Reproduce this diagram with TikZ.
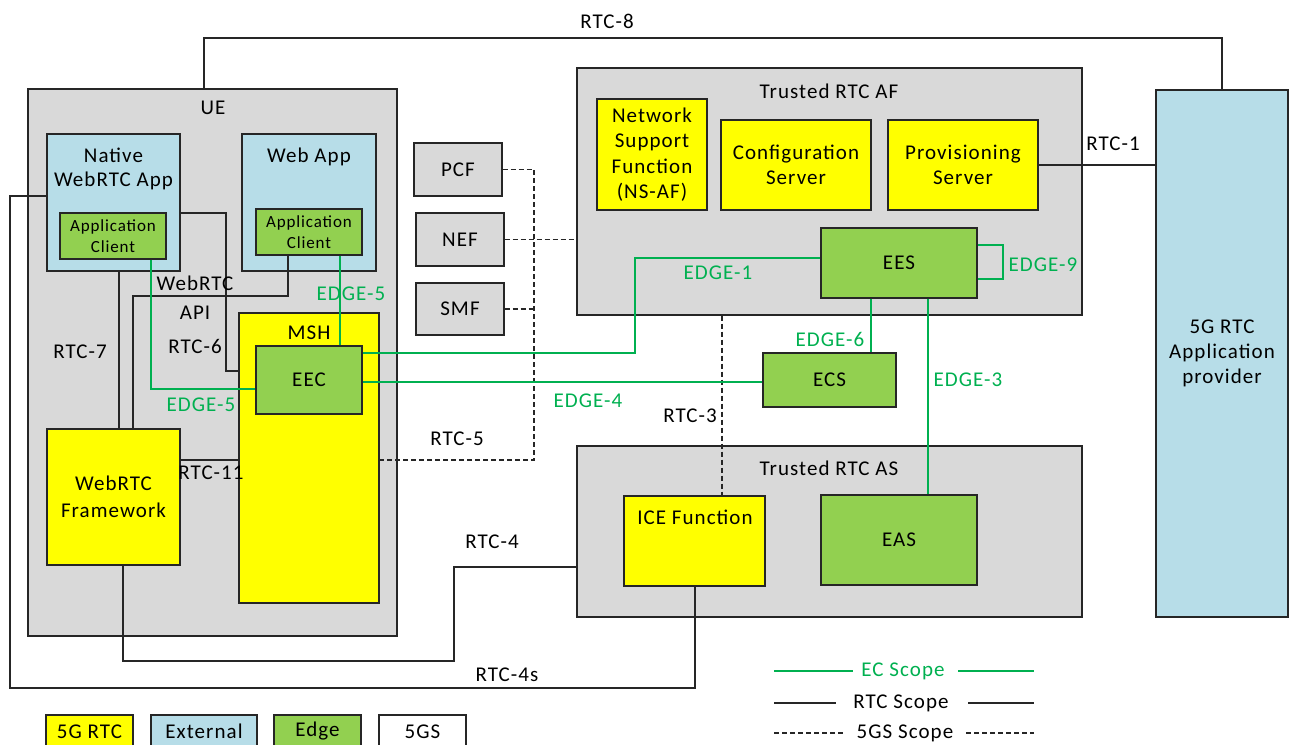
\documentclass[tikz,border=0pt]{standalone}
\usepackage{fontspec}
\setmainfont{Carlito}[LetterSpace=5]
\usetikzlibrary{positioning,calc}
\definecolor{areagray}{HTML}{D9D9D9}
\definecolor{extblue}{HTML}{B7DDE8}
\definecolor{edgefill}{HTML}{92D050}
\definecolor{rtcyellow}{HTML}{FFFF00}
\definecolor{ecgreen}{HTML}{00B050}
\tikzset{
  size/.style 2 args={minimum width=#1pt,minimum height=#2pt},
  box/.style={draw=black!85,line width=1.2pt,inner sep=0pt,align=center,font=\fontsize{21}{25}\selectfont},
  area/.style={box,fill=areagray},
  ext/.style={box,fill=extblue},
  edgebox/.style={box,fill=edgefill},
  rtcbox/.style={box,fill=rtcyellow},
  small/.style={font=\fontsize{17}{21}\selectfont},
  rtc/.style={line width=1.1pt,black!85},
  fgs/.style={rtc,dash pattern=on 5pt off 3pt},
  ec/.style={line width=1.1pt,ecgreen},
  lbl/.style={align=center,font=\fontsize{21}{25}\selectfont},
  eclbl/.style={lbl,text=ecgreen}
}

\begin{document}
\begin{tikzpicture}[x=1pt,y=-1pt]
  \clip (0,0) rectangle (1289,744);

  % UE side
  \node[area,size={369}{547}]    (ue)    at (212.5,362.5) {};
  \node[lbl]                     (uelbl) at (213,108) {UE};
  \node[ext,size={133}{137}]     (nat)   at (113.5,202.5) {};
  \node[lbl,font=\fontsize{21}{24}\selectfont] (natlbl) at (113.5,169) {Native\\WebRTC App};
  \node[edgebox,small,size={106}{46}] (natcl) at (113,236) {Application\\Client};
  \node[ext,size={134}{137}]     (web)   at (309,202.5) {};
  \node[lbl]                     (weblbl) at (309,157) {Web App};
  \node[edgebox,small,size={106}{46}] (webcl) at (309,232) {Application\\Client};
  \node[rtcbox,size={140}{290}]  (msh)   at (309,458) {};
  \node[lbl]                     (mshlbl) at (309,333) {MSH};
  \node[edgebox,size={106}{68}]  (eec)   at (309,380) {EEC};
  \node[rtcbox,size={133}{136},font=\fontsize{21}{27}\selectfont] (fw) at (113.5,497) {WebRTC\\Framework};

  % 5GS functions
  \node[area,size={88}{53}]      (pcf)   at (458,169.5) {PCF};
  \node[area,size={88}{53}]      (nef)   at (460,239.5) {NEF};
  \node[area,size={88}{52}]      (smf)   at (460,309) {SMF};

  % Trusted RTC AF
  \node[area,size={505}{247}]    (af)    at (829.5,191.5) {};
  \node[lbl]                     (aflbl) at (829,91) {Trusted RTC AF};
  \node[rtcbox,size={110}{111},font=\fontsize{21}{25.5}\selectfont] (nsaf) at (652,154.5) {Network\\Support\\Function\\(NS-AF)};
  \node[rtcbox,size={150}{90}]   (conf)  at (796,165) {Configuration\\Server};
  \node[rtcbox,size={150}{90}]   (prov)  at (963,165) {Provisioning\\Server};
  \node[edgebox,size={156}{70}]  (ees)   at (899,263) {EES};
  \node[edgebox,size={133}{54}]  (ecs)   at (829.5,380) {ECS};

  % Trusted RTC AS
  \node[area,size={505}{171}]    (as)    at (829.5,531.5) {};
  \node[lbl]                     (aslbl) at (829,468) {Trusted RTC AS};
  \node[rtcbox,size={141}{90}]   (ice)   at (694.5,541) {};
  \node[lbl]                     (icelbl) at (695,517) {ICE Function};
  \node[edgebox,size={156}{90}]  (eas)   at (899,540) {EAS};

  % application provider
  \node[ext,size={132}{527}]     (app)   at (1222,353.5) {5G RTC\\Application\\provider};

  % RTC reference points
  \draw[rtc] (ue.north -| 204,0) -- (204,38) -| (app.north);
  \node[lbl] (rtc8) at (607,21) {RTC-8};
  \draw[rtc] (prov.east) -- (prov.east -| app.west);
  \node[lbl] (rtc1) at (1113,144) {RTC-1};
  \draw[rtc] (nat.east |- 0,213) -| (226,371) -- (msh.west |- 0,371);
  \node[lbl] (rtc6) at (195,346) {RTC-6};
  \draw[rtc] (nat.south -| 119,0) -- (fw.north -| 119,0);
  \node[lbl] (rtc7) at (80,352) {RTC-7};
  \draw[rtc] (webcl.south -| 288,0) |- (133,296) -- (fw.north -| 133,0);
  \node[lbl,font=\fontsize{21}{29}\selectfont] (api) at (195,298) {WebRTC\\API};
  \draw[rtc] (fw.east |- 0,460) -- (msh.west |- 0,460);
  \node[lbl] (rtc11) at (211,473) {RTC-11};
  \draw[rtc] (fw.south -| 123,0) |- (454,661) |- (as.west |- 0,567);
  \node[lbl] (rtc4) at (492,542) {RTC-4};
  \draw[rtc] (nat.west |- 0,196) -| (10,688) -| (ice.south -| 695,0);
  \node[lbl] (rtc4s) at (507,675) {RTC-4s};

  % 5GS links
  \draw[fgs] (pcf.east) -| (534,460) -- (msh.east |- 0,460);
  \draw[fgs] (nef.east) -- (nef.east -| af.west);
  \draw[fgs] (smf.east) -- (smf.east -| 534,0);
  \node[lbl] (rtc5) at (457,439) {RTC-5};
  \draw[fgs] (af.south -| 722,0) -- (ice.north -| 722,0);
  \node[lbl] (rtc3) at (690,416) {RTC-3};

  % EDGE reference points
  \draw[ec] (natcl.south -| 151,0) |- (eec.west |- 0,389);
  \node[eclbl] (edge5a) at (201,405) {EDGE-5};
  \draw[ec] (webcl.south -| 340,0) -- (eec.north -| 340,0);
  \node[eclbl] (edge5b) at (351,294) {EDGE-5};
  \draw[ec] (ees.west |- 0,258) -| (635,353) -- (eec.east |- 0,353);
  \node[eclbl] (edge1) at (718,273) {EDGE-1};
  \draw[ec] (eec.east |- 0,382) -- (ecs.west |- 0,382);
  \node[eclbl] (edge4) at (588,401) {EDGE-4};
  \draw[ec] (ees.south -| 871,0) -- (ecs.north -| 871,0);
  \node[eclbl] (edge6) at (830,339) {EDGE-6};
  \draw[ec] (ees.south -| 928,0) -- (eas.north -| 928,0);
  \node[eclbl] (edge3) at (968,380) {EDGE-3};
  \draw[ec] (ees.east |- 0,245) -| (1003,279) -- (ees.east |- 0,279);
  \node[eclbl] (edge9) at (1043,265) {EDGE-9};

  % Legend
  \node[rtcbox,size={87}{33}]         (lgrtc)  at (89.5,731.5) {5G RTC};
  \node[ext,size={106}{33}]           (lgext)  at (204,731.5) {External};
  \node[edgebox,size={87}{33}]        (lgedge) at (317.5,731.5) {Edge};
  \node[box,fill=white,size={87}{33}] (lgfgs)  at (422.5,731.5) {5GS};

  \node[eclbl] (lgec)  at (903,671) {EC Scope};
  \node[lbl]   (lgrtcs) at (901,703) {RTC Scope};
  \node[lbl]   (lgfgss) at (905,733) {5GS Scope};
  \draw[ec]  (774,671) -- (853,671);  \draw[ec]  (958,671) -- (1034,671);
  \draw[rtc] (774,703) -- (836,703);  \draw[rtc] (968,703) -- (1034,703);
  \draw[fgs] (774,733) -- (843,733);  \draw[fgs] (966,733) -- (1034,733);
\end{tikzpicture}
\end{document}
